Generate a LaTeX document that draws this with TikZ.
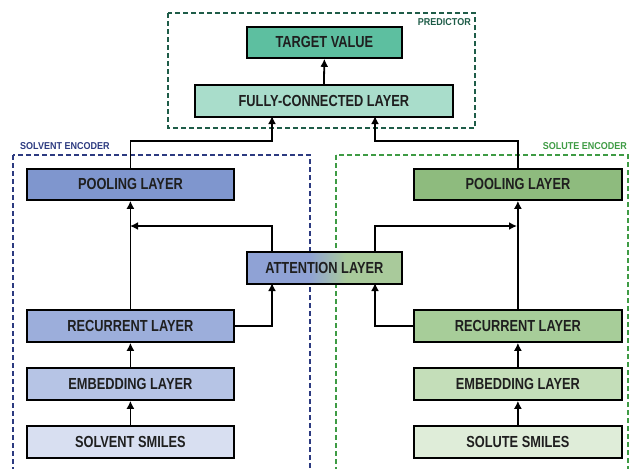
\documentclass[tikz,border=0pt]{standalone}
\usepackage{fontspec}
\setmainfont{Liberation Sans}
\newfontfamily\condfont{Liberation Sans Bold}[FakeStretch=0.8]
\newfontfamily\smallcond{Liberation Sans Bold}[FakeStretch=0.9]
\usetikzlibrary{arrows.meta}
\definecolor{tgt}{HTML}{5DBFA0}
\definecolor{fcl}{HTML}{A9DDCB}
\definecolor{bpool}{HTML}{7F96CE}
\definecolor{brec}{HTML}{9CAEDB}
\definecolor{bemb}{HTML}{B6C4E5}
\definecolor{bsmi}{HTML}{D8DFF1}
\definecolor{gpool}{HTML}{8EBB7E}
\definecolor{grec}{HTML}{A7CD99}
\definecolor{gemb}{HTML}{C4DEB9}
\definecolor{gsmi}{HTML}{DFEDD9}
\definecolor{attb}{HTML}{8FA2D5}
\definecolor{attg}{HTML}{A9CA9B}
\definecolor{navyd}{HTML}{2C3A80}
\definecolor{greend}{HTML}{3E9B44}
\definecolor{tealdk}{HTML}{1E5C48}
\pgfdeclarehorizontalshading{attshade}{100bp}{color(0bp)=(attb); color(45bp)=(attb); color(57bp)=(attg); color(100bp)=(attg)}
\tikzset{
  layer/.style={draw=black, line width=1.8pt, inner sep=0pt, anchor=north west},
  lbl/.style={font=\condfont\fontsize{16}{16}\selectfont, text=black!88},
  conn/.style={line width=1.8pt, -{Latex[length=8pt,width=8pt]}},
  grp/.style={dash pattern=on 5pt off 3pt, line width=1.6pt},
  grplabel/.style={font=\smallcond\fontsize{10}{10}\selectfont, inner sep=0pt}
}
\begin{document}
\begin{tikzpicture}[x=1pt,y=-1pt]
\useasboundingbox (0,0) rectangle (633,469);
% groups
\draw[grp, tealdk] (168,13) rectangle (475,128);
\node[grplabel, text=tealdk, anchor=north east] (lpred) at (471,18) {PREDICTOR};
\draw[grp, navyd] (13,155) rectangle (310,475);
\node[grplabel, text=navyd, anchor=south west] (lsolv) at (20,150) {SOLVENT ENCODER};
\draw[grp, greend] (336,155) rectangle (628,475);
\node[grplabel, text=greend, anchor=south east] (lsolu) at (627,150) {SOLUTE ENCODER};
% predictor
\node[layer, fill=tgt, minimum width=155pt, minimum height=31pt] (tv) at (246,26) {};
\node[layer, fill=fcl, minimum width=258pt, minimum height=32pt] (fc) at (194,84) {};
% solvent
\node[layer, fill=bpool, minimum width=207pt, minimum height=31pt] (sp) at (26,168) {};
\node[layer, fill=brec, minimum width=207pt, minimum height=32pt] (sr) at (26,309) {};
\node[layer, fill=bemb, minimum width=207pt, minimum height=32pt] (se) at (26,367) {};
\node[layer, fill=bsmi, minimum width=207pt, minimum height=32pt] (ss) at (26,425) {};
% solute
\node[layer, fill=gpool, minimum width=208pt, minimum height=31pt] (up) at (413,168) {};
\node[layer, fill=grec, minimum width=208pt, minimum height=32pt] (ur) at (413,309) {};
\node[layer, fill=gemb, minimum width=208pt, minimum height=32pt] (ue) at (413,367) {};
\node[layer, fill=gsmi, minimum width=208pt, minimum height=32pt] (us) at (413,425) {};
% attention
\node[layer, shading=attshade, minimum width=155pt, minimum height=32pt] (att) at (246,251) {};
% labels
\node[lbl] (t1) at (tv.center) {TARGET VALUE};
\node[lbl] (t2) at (fc.center) {FULLY-CONNECTED LAYER};
\node[lbl] (t3) at (sp.center) {POOLING LAYER};
\node[lbl] (t4) at (sr.center) {RECURRENT LAYER};
\node[lbl] (t5) at (se.center) {EMBEDDING LAYER};
\node[lbl] (t6) at (ss.center) {SOLVENT SMILES};
\node[lbl] (t7) at (up.center) {POOLING LAYER};
\node[lbl] (t8) at (ur.center) {RECURRENT LAYER};
\node[lbl] (t9) at (ue.center) {EMBEDDING LAYER};
\node[lbl] (t10) at (us.center) {SOLUTE SMILES};
\node[lbl] (t11) at (att.center) {ATTENTION LAYER};
% coordinates
\coordinate (fcL) at (272,116);
\coordinate (fcR) at (375,116);
\coordinate (elL) at (272,141);
\coordinate (elR) at (375,141);
\coordinate (atNL) at (272,251);
\coordinate (atNR) at (375,251);
\coordinate (atSL) at (272,283);
\coordinate (atSR) at (375,283);
\coordinate (spB) at (130,226);
\coordinate (upB) at (517,226);
% connectors
\draw[conn] (fc.north) -- (tv.south);
\draw[conn] (sp.north) |- (elL) -- (fcL);
\draw[conn] (up.north) |- (elR) -- (fcR);
\draw[conn] (ss.north) -- (se.south);
\draw[conn] (se.north) -- (sr.south);
\draw[conn] (sr.north) -- (sp.south);
\draw[conn] (us.north) -- (ue.south);
\draw[conn] (ue.north) -- (ur.south);
\draw[conn] (ur.north) -- (up.south);
\draw[conn] (atNL) |- (spB);
\draw[conn] (atNR) |- (upB);
\draw[conn] (sr.east) -| (atSL);
\draw[conn] (ur.west) -| (atSR);
\end{tikzpicture}
\end{document}
